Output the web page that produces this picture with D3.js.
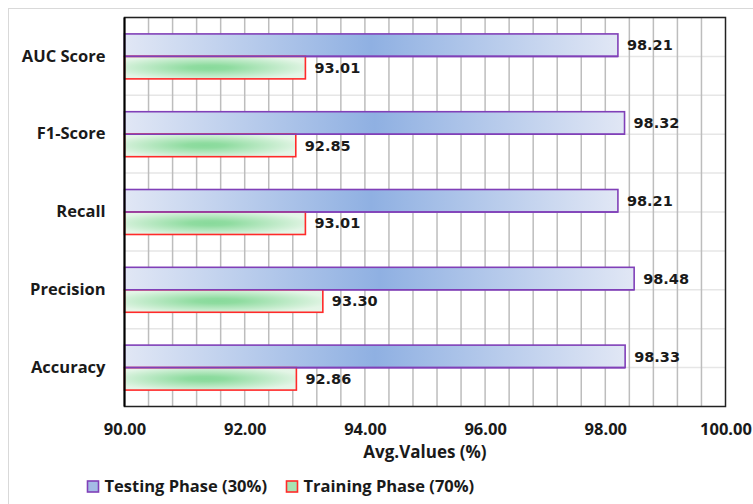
<!DOCTYPE html>
<html>
<head>
<meta charset="utf-8">
<script src="https://cdn.jsdelivr.net/npm/d3@7"></script>
<style>
  html, body { margin: 0; padding: 0; background: #ffffff; }
  svg { display: block; }
</style>
</head>
<body>
<svg id="chart" width="753" height="504"></svg>
<script>
// Metric categories, drawn top to bottom
const categories = ["AUC Score", "F1-Score", "Recall", "Precision", "Accuracy"];
// Average values (%) per phase
const testingValues = [98.21, 98.32, 98.21, 98.48, 98.33];
const trainingValues = [93.01, 92.85, 93.01, 93.30, 92.86];
const seriesNames = ["Testing Phase (30%)", "Training Phase (70%)"];
const xTicks = [90, 92, 94, 96, 98, 100];
const xDomain = [90, 100];
const gridStep = 0.4;

const svg = d3.select("#chart");
const plot = { left: 124.5, right: 725.5, top: 17.5, bottom: 406.5 };

const x = d3.scaleLinear().domain(xDomain).range([plot.left, plot.right]);
const y = d3.scaleBand().domain(categories).range([plot.top, plot.bottom]).padding(0);
const ySub = d3.scaleBand().domain(["test", "train"]).range([0, y.bandwidth()])
  .paddingInner(0).paddingOuter(0.73);

// Gradients
const defs = svg.append("defs");
const gBlue = defs.append("linearGradient").attr("id", "gBlue")
  .attr("x1", "0%").attr("x2", "100%").attr("y1", "0%").attr("y2", "0%");
gBlue.append("stop").attr("offset", "0%").attr("stop-color", "#e1e7f5");
gBlue.append("stop").attr("offset", "50%").attr("stop-color", "#8fb0e2");
gBlue.append("stop").attr("offset", "100%").attr("stop-color", "#e1e7f5");

const gGreen = defs.append("radialGradient").attr("id", "gGreen")
  .attr("cx", "47%").attr("cy", "50%").attr("r", "75%").attr("fx", "47%").attr("fy", "50%");
gGreen.append("stop").attr("offset", "0%").attr("stop-color", "#88da9b");
gGreen.append("stop").attr("offset", "15%").attr("stop-color", "#8fdca0");
gGreen.append("stop").attr("offset", "75%").attr("stop-color", "#e3f5e6");
gGreen.append("stop").attr("offset", "100%").attr("stop-color", "#eaf8ec");

// Outer frame
svg.append("rect").attr("x", 8.5).attr("y", 8.5).attr("width", 760).attr("height", 510)
  .attr("fill", "#ffffff").attr("stroke", "#d9d9d9").attr("stroke-width", 1);

// Horizontal gridlines at band edges and band midpoints
const hLines = [];
categories.forEach(c => { hLines.push(y(c)); hLines.push(y(c) + y.bandwidth() / 2); });
svg.append("g").selectAll("line").data(hLines).join("line")
  .attr("x1", plot.left).attr("x2", plot.right)
  .attr("y1", d => d).attr("y2", d => d)
  .attr("stroke", "#e6e6e6").attr("stroke-width", 1.5);

// Vertical gridlines
const vLines = d3.range(xDomain[0] + gridStep, xDomain[1] - 0.001, gridStep);
svg.append("g").selectAll("line").data(vLines).join("line")
  .attr("x1", d => x(d)).attr("x2", d => x(d))
  .attr("y1", plot.top).attr("y2", plot.bottom)
  .attr("stroke", "#bdbdbd").attr("stroke-width", 1.5);

// Bars
const rows = categories.map((c, i) => ({ c, test: testingValues[i], train: trainingValues[i] }));
const bars = svg.append("g");
bars.selectAll("rect.test").data(rows).join("rect").attr("class", "test")
  .attr("x", x(xDomain[0]))
  .attr("y", d => y(d.c) + ySub("test"))
  .attr("width", d => x(d.test) - x(xDomain[0]))
  .attr("height", ySub.bandwidth())
  .attr("fill", "url(#gBlue)").attr("stroke", "#8040b8").attr("stroke-width", 1.6);
bars.selectAll("rect.train").data(rows).join("rect").attr("class", "train")
  .attr("x", x(xDomain[0]))
  .attr("y", d => y(d.c) + ySub("train"))
  .attr("width", d => x(d.train) - x(xDomain[0]))
  .attr("height", ySub.bandwidth())
  .attr("fill", "url(#gGreen)").attr("stroke", "#ff2a2a").attr("stroke-width", 1.6);
// Redraw the shared edge in purple so the testing outline stays on top
bars.selectAll("line.sep").data(rows).join("line").attr("class", "sep")
  .attr("x1", x(xDomain[0])).attr("x2", d => x(d.test))
  .attr("y1", d => y(d.c) + ySub("train")).attr("y2", d => y(d.c) + ySub("train"))
  .attr("stroke", "#8040b8").attr("stroke-width", 1.6);

// Value labels
const lblFont = "'DejaVu Sans', Verdana, sans-serif";
svg.append("g").selectAll("text").data(rows).join("text")
  .attr("x", d => x(d.test) + 9)
  .attr("y", d => y(d.c) + ySub("test") + ySub.bandwidth() / 2)
  .attr("dy", "0.36em")
  .attr("font-family", lblFont).attr("font-weight", "bold").attr("font-size", 14.5)
  .attr("fill", "#1a1a1a").text(d => d.test.toFixed(2));
svg.append("g").selectAll("text").data(rows).join("text")
  .attr("x", d => x(d.train) + 9)
  .attr("y", d => y(d.c) + ySub("train") + ySub.bandwidth() / 2)
  .attr("dy", "0.36em")
  .attr("font-family", lblFont).attr("font-weight", "bold").attr("font-size", 14.5)
  .attr("fill", "#1a1a1a").text(d => d.train.toFixed(2));

// Plot border
svg.append("rect").attr("x", plot.left).attr("y", plot.top)
  .attr("width", plot.right - plot.left).attr("height", plot.bottom - plot.top)
  .attr("fill", "none").attr("stroke", "#222222").attr("stroke-width", 1.5);
svg.append("line").attr("x1", plot.left).attr("x2", plot.left)
  .attr("y1", plot.top).attr("y2", plot.bottom)
  .attr("stroke", "#000000").attr("stroke-width", 2);

const txtFont = "'Open Sans', 'Noto Sans', sans-serif";

// Category axis
const yAxis = d3.axisLeft(y).tickSize(0).tickPadding(19);
const gy = svg.append("g").attr("transform", `translate(${plot.left},0)`).call(yAxis);
gy.select(".domain").remove();
gy.selectAll("text").attr("font-family", txtFont).attr("font-weight", "bold")
  .attr("font-size", 16.5).attr("fill", "#1a1a1a");

// Value axis
const xAxis = d3.axisBottom(x).tickValues(xTicks).tickFormat(d3.format(".2f")).tickSize(0).tickPadding(17);
const gx = svg.append("g").attr("transform", `translate(0,${plot.bottom})`).call(xAxis);
gx.select(".domain").remove();
gx.selectAll("text").attr("font-family", txtFont).attr("font-weight", "bold")
  .attr("font-size", 16.5).attr("fill", "#1a1a1a");

svg.append("text").attr("x", (plot.left + plot.right) / 2).attr("y", 458)
  .attr("text-anchor", "middle")
  .attr("font-family", txtFont).attr("font-weight", "bold").attr("font-size", 17)
  .attr("fill", "#1a1a1a").text("Avg.Values (%)");

// Legend
const legend = [
  { name: seriesNames[0], fill: "#a4bbe6", stroke: "#8040b8", x: 87.5 },
  { name: seriesNames[1], fill: "#a8e3b3", stroke: "#ff2a2a", x: 286.5 }
];
const lg = svg.append("g").selectAll("g").data(legend).join("g")
  .attr("transform", d => `translate(${d.x},481)`);
lg.append("rect").attr("width", 11).attr("height", 11)
  .attr("fill", d => d.fill).attr("stroke", d => d.stroke).attr("stroke-width", 1.6);
lg.append("text").attr("x", 17).attr("y", 5.5).attr("dy", "0.36em")
  .attr("font-family", txtFont).attr("font-weight", "bold").attr("font-size", 16.5)
  .attr("fill", "#1a1a1a").text(d => d.name);
</script>
</body>
</html>
